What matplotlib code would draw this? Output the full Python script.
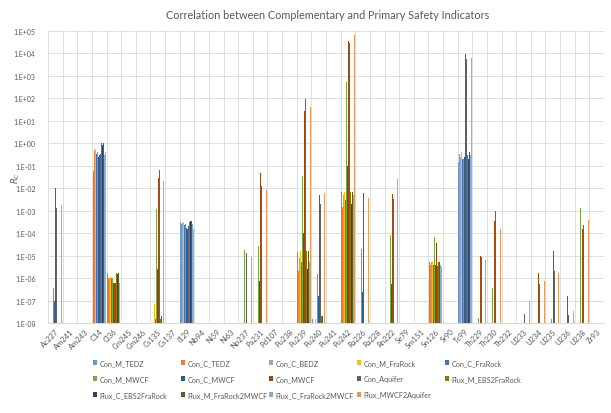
import numpy as np
import matplotlib
matplotlib.use("Agg")
import matplotlib.pyplot as plt
from matplotlib.patches import Patch

plt.rcParams['font.family'] = ['Lato', 'DejaVu Sans']

nuclides = ['Ac227', 'Am241', 'Am243', 'C14', 'Cl36', 'Cm245', 'Cm246', 'Cs135', 'Cs137', 'I129',
            'Nb94', 'Ni59', 'Ni63', 'Np237', 'Pa231', 'Pd107', 'Pu238', 'Pu239', 'Pu240', 'Pu241',
            'Pu242', 'Ra226', 'Ra228', 'Rn222', 'Se79', 'Sm151', 'Sn126', 'Sr90', 'Tc99', 'Th229',
            'Th230', 'Th232', 'U233', 'U234', 'U235', 'U236', 'U238', 'Zr93']

# one list per indicator, same order as nuclides (0 = no bar)
con_m_tedz = [0, 0, 0, 6e-2, 1.7e-6, 0, 0, 0, 0, 3.3e-4,
              0, 0, 0, 0, 0, 0, 0, 1.5e-5, 1.5e-8, 0,
              6.5e-3, 0, 0, 0, 0, 0, 5e-6, 0, 0.15, 0,
              0, 0, 0, 0, 0, 0, 0, 0]
con_c_tedz = [0, 0, 0, 0.5, 1.0e-6, 0, 0, 0, 0, 2.5e-4,
              0, 0, 0, 0, 0, 0, 0, 2e-6, 0, 0,
              1.5e-3, 0, 0, 0, 0, 0, 4e-6, 0, 0.35, 0,
              0, 0, 0, 0, 0, 0, 0, 0]
con_c_bedz = [0, 0, 0, 0.45, 1.0e-6, 0, 0, 0, 0, 2.8e-4,
              0, 0, 0, 0, 0, 0, 0, 8e-6, 0, 0,
              5e-3, 0, 0, 0, 0, 0, 5e-6, 0, 0.25, 0,
              0, 0, 0, 0, 0, 0, 0, 0]
con_m_frarock = [0, 0, 0, 0.55, 1.1e-6, 0, 0, 7e-8, 0, 3e-4,
                 0, 0, 0, 0, 0, 0, 0, 1.6e-5, 1.5e-8, 0,
                 7e-3, 0, 0, 0, 0, 0, 5e-6, 0, 0.4, 0,
                 0, 0, 0, 0, 0, 0, 0, 0]
con_c_frarock = [0, 0, 0, 0.35, 1.0e-6, 0, 0, 1.5e-8, 0, 2.2e-4,
                 0, 0, 0, 0, 0, 0, 0, 5e-6, 0, 0,
                 3e-3, 0, 0, 0, 0, 0, 4e-6, 0, 0.2, 0,
                 0, 0, 0, 0, 0, 0, 0, 0]
con_m_mwcf = [3.6e-7, 0, 0, 0.4, 1.0e-6, 0, 0, 1.2e-3, 0, 2.6e-4,
              0, 0, 0, 1.7e-5, 2.7e-5, 0, 0, 3.5e-2, 1.5e-6, 0,
              550, 2e-5, 0, 8e-5, 0, 0, 6.5e-5, 0, 0.2, 1.6e-8,
              3.7e-7, 0, 0, 0, 1.5e-8, 0, 1.3e-3, 0]
con_c_mwcf = [9.5e-8, 0, 0, 0.25, 6e-7, 0, 0, 2.5e-6, 0, 1.7e-4,
              0, 0, 0, 0, 7.5e-7, 0, 0, 1e-4, 1.6e-7, 0,
              0.1, 2.5e-7, 0, 5.5e-7, 0, 0, 4e-6, 0, 0.25, 0,
              0, 0, 0, 0, 0, 0, 0, 0]
con_mwcf = [1e-2, 0, 0, 0.3, 6e-7, 0, 0, 3e-2, 0, 1.6e-4,
            0, 0, 0, 3.5e-5, 5e-2, 0, 0, 28, 5e-3, 0,
            3.5e4, 6e-3, 0, 5.5e-3, 0, 0, 3.8e-5, 0, 9e3, 1e-5,
            3.5e-4, 0, 1.8e-8, 1.7e-6, 1.6e-5, 1.6e-7, 1.5e-4, 0]
con_aquifer = [1.3e-3, 0, 0, 0.35, 6e-7, 0, 0, 6.5e-2, 0, 2e-4,
               0, 0, 0, 1.3e-5, 1.3e-2, 0, 0, 90, 2e-3, 0,
               3e4, 5e-3, 0, 3.3e-3, 0, 0, 3.5e-6, 0, 5.5e3, 9e-6,
               1e-3, 0, 2.5e-8, 5.7e-7, 2e-6, 2.2e-8, 2.2e-4, 0]
flux_m_ebs2frarock = [0, 0, 0, 1.0, 1.7e-6, 0, 0, 1.5e-8, 0, 3.3e-4,
                      0, 0, 0, 0, 0, 0, 0, 1.6e-5, 2e-8, 0,
                      7e-3, 0, 0, 0, 0, 0, 5e-6, 0, 0.3, 0,
                      0, 0, 0, 0, 0, 0, 0, 0]
flux_c_ebs2frarock = [0, 0, 0, 0.8, 1.5e-6, 0, 0, 1.5e-8, 0, 3.5e-4,
                      0, 0, 0, 0, 0, 0, 0, 2.5e-6, 2e-8, 0,
                      2e-3, 0, 0, 0, 0, 0, 5e-6, 0, 0.2, 0,
                      0, 0, 0, 0, 0, 0, 0, 0]
flux_m_frarock2mwcf = [0, 0, 0, 1.0, 1.6e-6, 0, 0, 2e-8, 0, 3.4e-4,
                       0, 0, 0, 0, 0, 0, 0, 1.6e-5, 2e-8, 0,
                       7e-3, 0, 0, 0, 0, 0, 5e-6, 0, 0.4, 0,
                       0, 0, 0, 0, 0, 0, 0, 0]
flux_c_frarock2mwcf = [0, 0, 0, 0.3, 1.4e-6, 0, 0, 0, 0, 2.6e-4,
                       0, 0, 0, 0, 0, 0, 0, 5e-6, 0, 0,
                       5e-3, 0, 0, 0, 0, 0, 4e-6, 0, 0.3, 0,
                       0, 0, 0, 0, 0, 0, 0, 0]
flux_mwcf2aquifer = [1.8e-3, 0, 0, 0.4, 6e-7, 0, 0, 2.2e-2, 0, 1.6e-4,
                     0, 0, 0, 9e-6, 8e-3, 0, 0, 40, 6e-3, 0,
                     6.6e4, 3.7e-3, 0, 2.7e-2, 0, 0, 3.2e-6, 0, 6e3, 6.5e-6,
                     1.6e-4, 0, 1e-7, 7.5e-7, 1.7e-6, 3.3e-8, 4e-4, 0]

series_names = ['Con_M_TEDZ', 'Con_C_TEDZ', 'Con_C_BEDZ', 'Con_M_FraRock', 'Con_C_FraRock',
                'Con_M_MWCF', 'Con_C_MWCF', 'Con_MWCF', 'Con_Aquifer', 'Flux_M_EBS2FraRock',
                'Flux_C_EBS2FraRock', 'Flux_M_FraRock2MWCF', 'Flux_C_FraRock2MWCF', 'Flux_MWCF2Aquifer']
series_vals = [con_m_tedz, con_c_tedz, con_c_bedz, con_m_frarock, con_c_frarock,
               con_m_mwcf, con_c_mwcf, con_mwcf, con_aquifer, flux_m_ebs2frarock,
               flux_c_ebs2frarock, flux_m_frarock2mwcf, flux_c_frarock2mwcf, flux_mwcf2aquifer]
colors = ['#5B9BD5', '#ED7D31', '#A5A5A5', '#FFC000', '#4472C4', '#70AD47', '#255E91',
          '#9E480E', '#636363', '#997300', '#264478', '#43682B', '#7CAFDD', '#F1975A']

ymin = 1e-8
fig = plt.figure(figsize=(6.11, 4.14), dpi=100)
ax = fig.add_axes([48 / 611, 90 / 414, 556 / 611, 292 / 414])
ax.set_yscale('log')

x = np.arange(len(nuclides))
group_w = 0.9
bar_w = group_w / len(series_names)
for i, (vals, col) in enumerate(zip(series_vals, colors)):
    v = np.array(vals, dtype=float)
    m = v > 0
    pos = x[m] - group_w / 2 + bar_w * (i + 0.5) + 0.5
    ax.bar(pos, v[m] - ymin, bottom=ymin, width=bar_w, color=col, linewidth=0, zorder=3)

ax.set_xlim(0, len(nuclides))
ax.set_ylim(ymin, 1e5)
ax.set_yticks([10.0 ** k for k in range(-8, 6)])
ax.yaxis.set_minor_locator(matplotlib.ticker.NullLocator())
ax.set_yticklabels(['1.E%+03d' % k for k in range(-8, 6)], fontsize=5, color='#595959')
ax.set_xticks(x + 0.5)
ax.set_xticklabels(nuclides, rotation=45, ha='right', rotation_mode='anchor', fontsize=5.5, color='#595959')
ax.set_xticks(x, minor=True)
ax.tick_params(which='both', length=0)
ax.tick_params(axis='y', pad=9)
ax.tick_params(axis='x', pad=3)
ax.grid(True, which='major', axis='y', color='#D9D9D9', linewidth=0.6, zorder=0)
ax.grid(True, which='minor', axis='x', color='#D9D9D9', linewidth=0.6, zorder=0)
for s in ['top', 'right', 'left']:
    ax.spines[s].set_visible(False)
ax.spines['bottom'].set_color('#D9D9D9')
fig.text(16 / 611, 1 - 178 / 414, '$R_C$', rotation=90, ha='center', va='center',
         fontsize=6, color='#595959')

fig.suptitle('Correlation between Complementary and Primary Safety Indicators',
             x=328 / 611, y=0.975, fontsize=7.8, color='#595959')

# Excel-style legend: 3 rows x 5 equal-width columns, filled row by row
handles = [Patch(facecolor=c, label=n) for c, n in zip(colors, series_names)]
for c in range(5):
    idx = [k for k in range(c, len(series_names), 5)]
    leg = fig.legend([handles[k] for k in idx], [series_names[k] for k in idx],
                     loc='upper left', bbox_to_anchor=((93 + 88 * c) / 611, 1 - 360 / 414),
                     ncol=1, frameon=False, fontsize=5.2, handlelength=0.6, handleheight=0.6,
                     handletextpad=0.3, labelspacing=1.25, borderaxespad=0, borderpad=0,
                     labelcolor='#595959')

fig.savefig('out.png', dpi=100)
